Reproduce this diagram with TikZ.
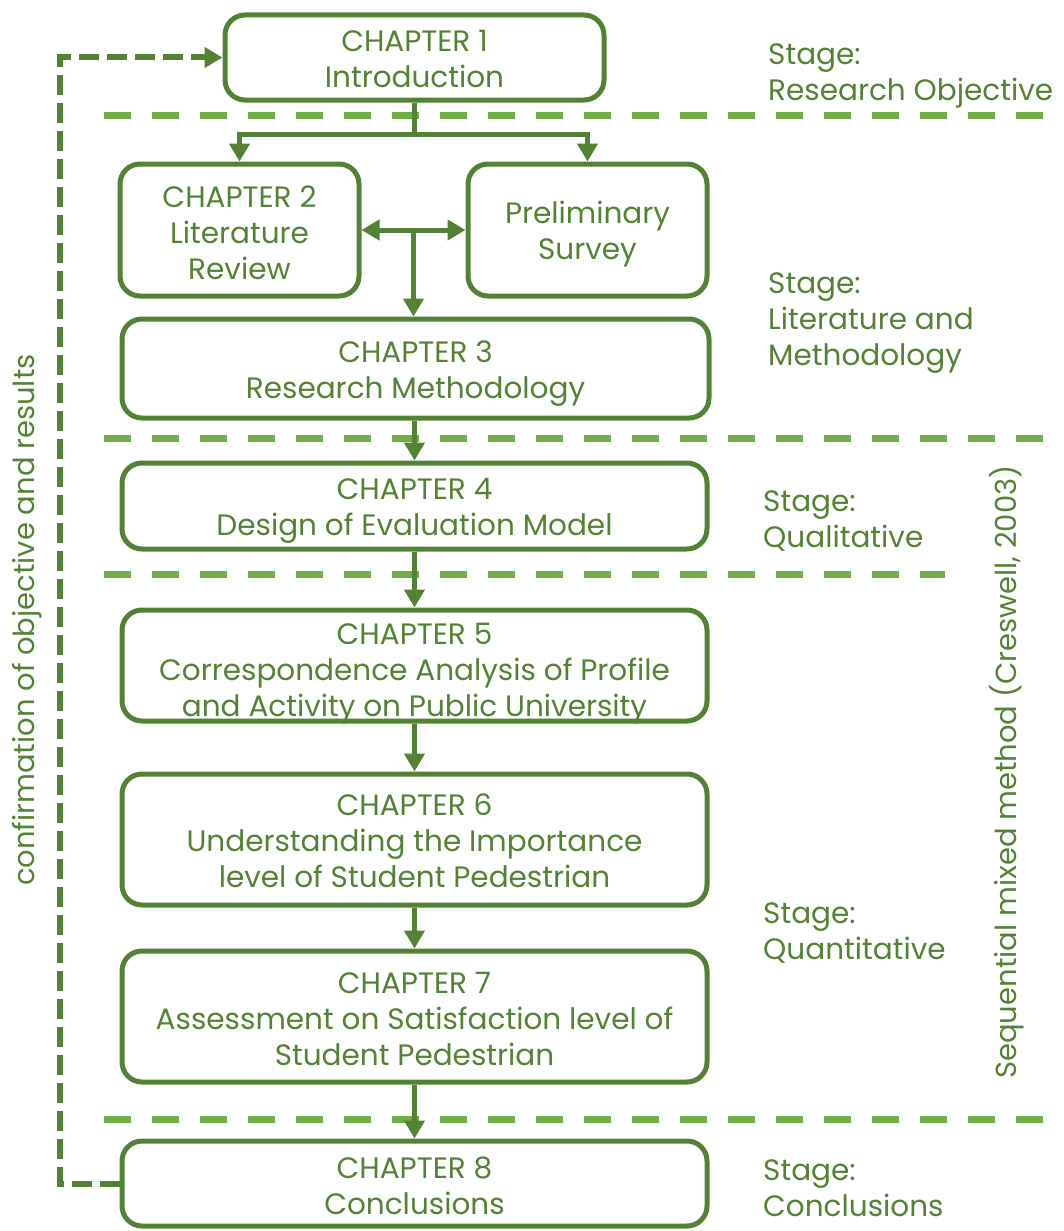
\documentclass[tikz,border=0pt]{standalone}
\usepackage{fontspec}
\setmainfont{Poppins}
\usetikzlibrary{arrows.meta,calc}
\definecolor{dkgreen}{HTML}{548235}
\definecolor{ltgreen}{HTML}{70AD47}
% centred lines of text, moved down by #1 without changing the reported size
\newcommand{\chtext}[2]{\raisebox{-#1}[\height][\depth]{\begin{tabular}{@{}c@{}}#2\end{tabular}}}
\begin{document}
\begin{tikzpicture}[x=1pt,y=-1pt,
  box/.style={draw=dkgreen,line width=5pt,rounded corners=20pt,fill=white,
    text=dkgreen,align=center,inner sep=0pt,font=\fontsize{29.5}{36}\selectfont},
  arr/.style={draw=dkgreen,line width=5pt,-{Triangle[width=20pt,length=18pt]}},
  dbl/.style={draw=dkgreen,line width=5pt,{Triangle[width=20pt,length=18pt]}-{Triangle[width=20pt,length=18pt]}},
  fb/.style={draw=dkgreen,line width=6pt,dash pattern=on 20pt off 8pt,-{Triangle[width=20pt,length=18pt]}},
  sep/.style={draw=ltgreen,line width=7pt,dash pattern=on 27pt off 21pt},
  stage/.style={anchor=west,align=left,text=dkgreen,inner sep=0pt,font=\fontsize{29.5}{36}\selectfont},
  side/.style={rotate=90,text=dkgreen,inner sep=0pt,font=\fontsize{29}{36}\selectfont}]
\useasboundingbox (0,0) rectangle (1064,1231);

% stage separators
\draw[sep] (104,115) -- (1045,115);
\draw[sep] (104,438) -- (1045,438);
\draw[sep] (104,574) -- (945,574);
\draw[sep] (104,1119) -- (1045,1119);

% chapter boxes
\node[box,minimum width=379pt,minimum height=85pt] (b1) at (414.5,57.5) {\chtext{5pt}{CHAPTER 1\\Introduction}};
\node[box,minimum width=239pt,minimum height=132pt] (b2) at (239.5,230) {\chtext{6pt}{CHAPTER 2\\Literature\\Review}};
\node[box,minimum width=239pt,minimum height=132pt] (pre) at (587.5,230) {\chtext{4pt}{Preliminary\\Survey}};
\node[box,minimum width=587pt,minimum height=99pt] (b3) at (415.5,368.5) {\chtext{5pt}{CHAPTER 3\\Research Methodology}};
\node[box,minimum width=585pt,minimum height=86pt] (b4) at (414.5,506) {\chtext{4pt}{CHAPTER 4\\Design of Evaluation Model}};
\node[box,minimum width=585pt,minimum height=111pt] (b5) at (414.5,665.5) {\chtext{8pt}{CHAPTER 5\\Correspondence Analysis of Profile\\and Activity on Public University}};
\node[box,minimum width=585pt,minimum height=131pt] (b6) at (414.5,839.5) {\chtext{5pt}{CHAPTER 6\\Understanding the Importance\\level of Student Pedestrian}};
\node[box,minimum width=585pt,minimum height=131pt] (b7) at (414.5,1016.5) {\chtext{5.5pt}{CHAPTER 7\\Assessment on Satisfaction level of\\Student Pedestrian}};
\node[box,minimum width=585pt,minimum height=85pt] (b8) at (414.5,1183.5) {\chtext{5.5pt}{CHAPTER 8\\Conclusions}};

% flow arrows
\draw[arr] (b1.south) -- ++(0,32) -| (b2.north);
\draw[arr] (b1.south) -- ++(0,32) -| (pre.north);
\draw[dbl] (b2.east) -- (pre.west);
\coordinate (mid) at ($(b2.east)!0.5!(pre.west)$);
\draw[arr] (mid) -- (mid |- b3.north);
\draw[arr] (b4.north |- b3.south) -- (b4.north);
\draw[arr] (b4.south) -- (b5.north);
\draw[arr] (b5.south) -- (b6.north);
\draw[arr] (b6.south) -- (b7.north);
\draw[arr] (b7.south) -- (b8.north);

% feedback loop
\draw[fb] (b8.west) -- (60,1183.5) |- (b1.west);

% stage labels
\node[stage] (s1) at (768,76) {Stage:\\Research Objective};
\node[stage] (s2) at (768,323) {Stage:\\Literature and\\Methodology};
\node[stage] (s3) at (763,521) {Stage:\\Qualitative};
\node[stage] (s4) at (763,933.5) {Stage:\\Quantitative};
\node[stage] (s5) at (763,1188) {Stage:\\Conclusions};

% side labels
\node[side] (conf) at (27,620) {confirmation of objective and results};
\node[side] (seq) at (1007,772) {Sequential mixed method (Creswell, 2003)};
\end{tikzpicture}
\end{document}
